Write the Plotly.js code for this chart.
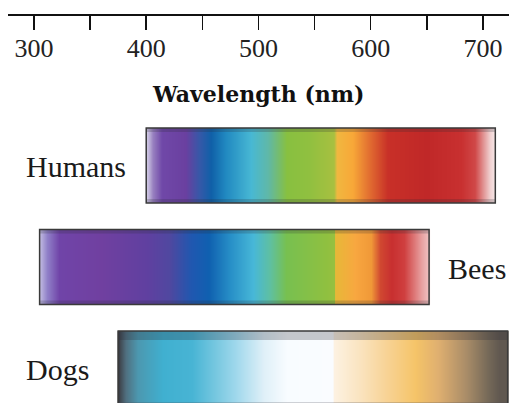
<!DOCTYPE html>
<html><head><meta charset="utf-8">
<script src="https://cdn.plot.ly/plotly-3.0.1.min.js"></script>
<style>html,body{margin:0;padding:0;background:#fff}#chart{width:509px;height:403px}</style>
</head><body><div id="chart"></div>
<script>
// ---- data ----
const species = ['Humans', 'Bees', 'Dogs'];
const tickVals = [300, 350, 400, 450, 500, 550, 600, 650, 700];
const tickText = ['300', '', '400', '', '500', '', '600', '', '700'];

// perceived colour along the visible range (wavelength in nm -> colour)
const humansNm = [400, 401, 406, 414, 435, 447, 457, 470, 493, 508, 525, 545, 567, 570, 584, 600, 615, 650, 680, 693, 706, 710, 711];
const humansColor = ['#d0c8e4', '#c8c0e0', '#9880c0', '#7048a8', '#6a40a0', '#3858a8', '#1060a8', '#2088c0', '#48b8d4', '#60b8a8', '#88c040', '#90c040', '#a8c040', '#f0b840', '#f8a838', '#e06830', '#c83028', '#c02828', '#c83030', '#d04848', '#f0d0d0', '#f8e8e8', '#f8e8e8'];

const beesNm = [305, 306, 312, 322, 360, 400, 420, 440, 455, 475, 495, 510, 525, 560, 567, 568, 585, 600, 608, 618, 630, 645, 651, 652];
const beesColor = ['#c0b8e0', '#b8b0dc', '#9080c8', '#7044a8', '#7040a0', '#6040a0', '#5048a0', '#2058b0', '#1060b0', '#2890c8', '#48b8d8', '#60c0a0', '#78c050', '#90c040', '#98c040', '#e8b838', '#f8a840', '#f09838', '#d04830', '#c83030', '#d04040', '#e8a0a0', '#f0c0c0', '#f0c0c0'];

const dogsNm = [375, 376, 382, 392, 415, 440, 462, 480, 505, 525, 566, 567, 590, 612, 640, 660, 685, 705, 715, 722];
const dogsColor = ['#383c44', '#404850', '#507080', '#4c98b0', '#40b0d0', '#48b4d4', '#78c8e0', '#a0d8ec', '#e0f0f8', '#f8fcff', '#fafcff', '#fdf2e2', '#fae4c0', '#f8d498', '#f5c468', '#e0b070', '#a88c68', '#746858', '#605850', '#605850'];

const stopsNm = [humansNm, beesNm, dogsNm];
const stopsColor = [humansColor, beesColor, dogsColor];

// ---- build ----
const half = 0.37;
const traces = [];
const shapes = [];
species.forEach((name, i) => {
  const nm = stopsNm[i], col = stopsColor[i];
  const lo = nm[0], hi = nm[nm.length - 1];
  const cs = nm.map((v, k) => [(v - lo) / (hi - lo), col[k]]);
  traces.push({
    type: 'heatmap', x: nm, y: [i - half, i, i + half], z: [nm, nm],
    zmin: lo, zmax: hi, colorscale: cs, zsmooth: 'best',
    showscale: false, hoverinfo: 'skip'
  });
  // subtle edge shading
  shapes.push({type: 'rect', xref: 'x', yref: 'y', x0: lo, x1: hi, y0: i - half, y1: i - half + (i === 2 ? 0.09 : 0.04),
    fillcolor: i === 2 ? 'rgba(40,40,50,0.25)' : 'rgba(40,40,50,0.22)', line: {width: 0}, layer: 'above'});
  shapes.push({type: 'rect', xref: 'x', yref: 'y', x0: lo, x1: hi, y0: i + half - 0.04, y1: i + half,
    fillcolor: 'rgba(40,40,50,0.2)', line: {width: 0}, layer: 'above'});
  shapes.push({type: 'rect', xref: 'x', yref: 'y', x0: lo, x1: hi, y0: i - half, y1: i + half,
    fillcolor: 'rgba(0,0,0,0)', line: {color: '#3a3a3a', width: 1.5}, layer: 'above'});
});

const serif = 'Liberation Serif, DejaVu Serif, serif';
const labelPos = [{x: 0.032, xa: 'left'}, {x: 1, xa: 'right'}, {x: 0.032, xa: 'left'}];
const annotations = species.map((name, i) => ({
  text: name, xref: 'paper', yref: 'y', x: labelPos[i].x, y: i, xanchor: labelPos[i].xa, yanchor: 'middle',
  showarrow: false, yshift: -1, xshift: i === 1 ? -1 : 0, font: {family: serif, size: 30, color: '#1a1a1a'}
}));
annotations.push({
  text: '<b>Wavelength (nm)</b>', xref: 'x', yref: 'paper', x: 500, y: 1 - (94 - 16) / 387,
  xanchor: 'center', yanchor: 'middle', showarrow: false,
  font: {family: 'DejaVu Serif, serif', size: 22, color: '#111'}
});

const layout = {
  width: 509, height: 403,
  margin: {l: 8, r: 0, t: 16, b: 0},
  paper_bgcolor: '#fff', plot_bgcolor: '#fff',
  showlegend: false,
  xaxis: {
    range: [276.84, 723.2], side: 'top', showline: true, linecolor: '#111', linewidth: 2.5,
    ticks: 'inside', ticklen: 14, tickwidth: 1.5, tickcolor: '#111',
    tickmode: 'array', tickvals: tickVals, ticktext: tickText,
    ticklabelposition: 'inside', ticklabelstandoff: 11,
    tickfont: {family: serif, size: 26, color: '#222'},
    showgrid: false, zeroline: false, fixedrange: true
  },
  yaxis: {range: [2.34, -1.473], visible: false, fixedrange: true},
  shapes: shapes,
  annotations: annotations
};

Plotly.newPlot('chart', traces, layout, {displayModeBar: false, staticPlot: true});
</script></body></html>
